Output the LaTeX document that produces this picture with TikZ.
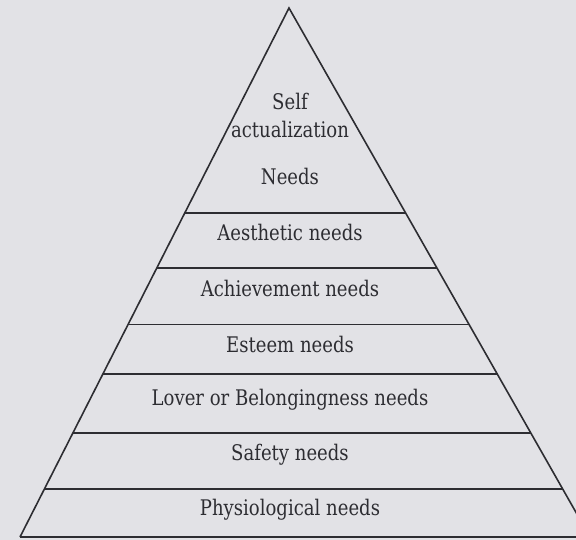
\documentclass[tikz,border=0pt]{standalone}
\usepackage{fontspec}
\setmainfont{DejaVu Serif}[FakeStretch=0.84]
\usetikzlibrary{calc}
\definecolor{paper}{RGB}{226,226,230}
\definecolor{ink}{RGB}{45,45,50}
\tikzset{
  side/.style={draw=ink, line width=1.6pt, line join=miter},
  level/.style={draw=ink, line width=1.6pt},
  lbl/.style={text=ink, font=\fontsize{21.5}{26}\selectfont, inner sep=0pt, anchor=center}
}
\begin{document}
\begin{tikzpicture}[x=1pt, y=-1pt]
\useasboundingbox (0,0) rectangle (576,540);
\fill[paper] (0,0) rectangle (576,540);
\clip (0,0) rectangle (576,540);
\coordinate (apex) at (289,8);
\coordinate (bl) at (20,537);
\coordinate (br) at (590,537);
\draw[side] (bl) -- (apex) -- (br);
\draw[level] (bl) -- (br);
\foreach \t/\n in {0.3875/a,0.4915/b,0.598/c,0.692/d,0.803/e,0.909/f}{
  \coordinate (L\n) at ($(apex)!\t!(bl)$);
  \coordinate (R\n) at ($(apex)!\t!(br)$);
  \draw[level] (L\n) -- (R\n);
}
\node[lbl] (self) at (290,101) {Self};
\node[lbl] (act) at (290,129) {actualization};
\node[lbl] (needs) at (290,176) {Needs};
\node[lbl] (aes) at (290,232) {Aesthetic needs};
\node[lbl] (ach) at (290,288) {Achievement needs};
\node[lbl] (est) at (290,344) {Esteem needs};
\node[lbl] (love) at (290,400) {Lover or Belongingness needs};
\node[lbl] (safe) at (290,455) {Safety needs};
\node[lbl] (phys) at (290,510) {Physiological needs};
\end{tikzpicture}
\end{document}
